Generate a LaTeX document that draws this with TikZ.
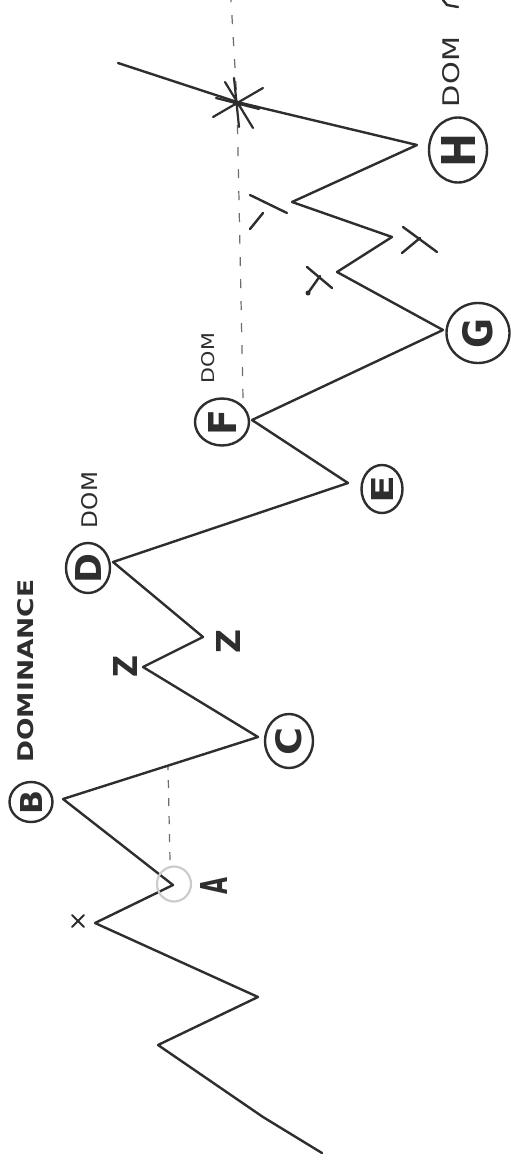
\documentclass[tikz,border=0pt]{standalone}
\usepackage{fontspec}
\setsansfont{DejaVu Sans}
\usetikzlibrary{shapes.geometric}
\definecolor{pencil}{HTML}{2E2E2E}
\tikzset{
  zig/.style={draw=pencil, line width=2.4pt, line join=round, line cap=round},
  tick/.style={draw=pencil, line width=2.4pt, line cap=round},
  ring/.style={ellipse, draw=pencil, line width=2.4pt, inner sep=0pt},
  letter/.style={rotate=90, text=pencil, inner sep=0pt, font=\sffamily},
  guide/.style={draw=pencil!70, line width=1.2pt, dash pattern=on 9pt off 13pt},
}
\newcommand{\rz}[3]{\resizebox{#1pt}{#2pt}{#3}}
\begin{document}
\begin{tikzpicture}[x=1pt,y=-1pt]
\useasboundingbox (0,0) rectangle (511,1167);
\fill[white] (0,0) rectangle (511,1167);
% path points
\coordinate (p0) at (322,1153);
\coordinate (p1) at (263,1117);
\coordinate (p2) at (158,1045);
\coordinate (p3) at (258,997);
\coordinate (pX) at (95,923);
\coordinate (pA) at (173,885);
\coordinate (pB) at (63,799);
\coordinate (pC) at (258,737);
\coordinate (pZ1) at (143,667);
\coordinate (pZ2) at (203,637);
\coordinate (pD) at (113,562);
\coordinate (pE) at (348,483);
\coordinate (pF) at (252,420);
\coordinate (pG) at (443,330);
\coordinate (pT1) at (337,272);
\coordinate (pT2) at (392,237);
\coordinate (pT3) at (292,202);
\coordinate (pH) at (417,145);
\coordinate (star) at (237,102);
\coordinate (pend) at (118,63);
% guides
\coordinate (gA1) at (170,860);
\coordinate (gA2) at (168,766);
\coordinate (gF1) at (243,398);
\coordinate (gF2) at (231,0);
\draw[guide] (gF1) -- (star) -- (gF2);
\draw[guide, dash pattern=on 8pt off 10pt] (gA1) -- (gA2);
% zigzag
\draw[zig] (p0) -- (p1) -- (p2) -- (p3) -- (pX) -- (pA) -- (pB) -- (pC) -- (pZ1) -- (pZ2) -- (pD) -- (pE) -- (pF) -- (pG) -- (pT1) -- (pT2) -- (pT3) -- (pH) -- (star) -- (pend);
% circles
\node[ellipse, draw=gray!40, line width=2.2pt, minimum width=34pt, minimum height=35pt] (cA) at (174,884) {};
\node[ring, minimum width=43pt, minimum height=40pt] (cB) at (31,802) {};
\node[ring, minimum width=48pt, minimum height=54pt] (cC) at (289,741) {};
\node[ring, minimum width=44pt, minimum height=50pt] (cD) at (88,568) {};
\node[ring, minimum width=41pt, minimum height=48pt] (cE) at (382,489) {};
\node[ring, minimum width=54pt, minimum height=47pt] (cF) at (222,422) {};
\node[ring, minimum width=63pt, minimum height=60pt] (cG) at (478,333) {};
\node[ring, minimum width=58pt, minimum height=65pt] (cH) at (458,150) {};
% letters in circles
\node[letter, font=\sffamily\bfseries] (lB) at (cB) {\rz{24}{22}{B}};
\node[letter, font=\sffamily\bfseries] (lC) at (cC) {\rz{28}{26}{C}};
\node[letter, font=\sffamily\bfseries] (lD) at (cD) {\rz{30}{26}{D}};
\node[letter, font=\sffamily\bfseries] (lE) at (cE) {\rz{28}{22}{E}};
\node[letter, font=\sffamily\bfseries] (lF) at (cF) {\rz{26}{28}{F}};
\node[letter, font=\sffamily\bfseries] (lG) at (cG) {\rz{30}{30}{G}};
\node[letter, font=\sffamily\bfseries] (lH) at (cH) {\rz{34}{34}{H}};
\node[letter, font=\sffamily\bfseries] (lA) at (214,886) {\rz{17}{27}{A}};
% labels
\node[letter, font=\sffamily\bfseries] (dominance) at (26,671) {\rz{183}{16}{DOMINANCE}};
\node[letter] (domD) at (90,500) {\rz{56}{16}{DOM}};
\node[letter] (domF) at (208,358) {\rz{50}{13}{DOM}};
\node[letter] (domH) at (451,72) {\rz{70}{17}{DOM}};
\node[letter, font=\sffamily\bfseries] (z1) at (125,666) {\rz{22}{24}{Z}};
\node[letter, font=\sffamily\bfseries] (z2) at (228,641) {\rz{24}{24}{Z}};
% ticks
\draw[tick, line width=1.8pt] (72,915) -- (84,927) (72,927) -- (84,915);
\draw[tick] (403,227) -- (437,252) (420,238) -- (402,253);
\draw[tick] (307,267) -- (332,288) (320,276) -- (308,293);
\fill[pencil] (308,293) circle (2.5pt);
\draw[tick] (250,195) -- (287,213) (263,213) -- (250,229);
% star
\draw[tick, line width=2.2pt] (213,117) -- (263,88) (225,82) -- (253,128) (234,78) -- (239,127) (216,98) -- (259,109);
% cut-off letter at top
\draw[tick] (443,0) -- (447,5) -- (458,7);
\end{tikzpicture}
\end{document}
